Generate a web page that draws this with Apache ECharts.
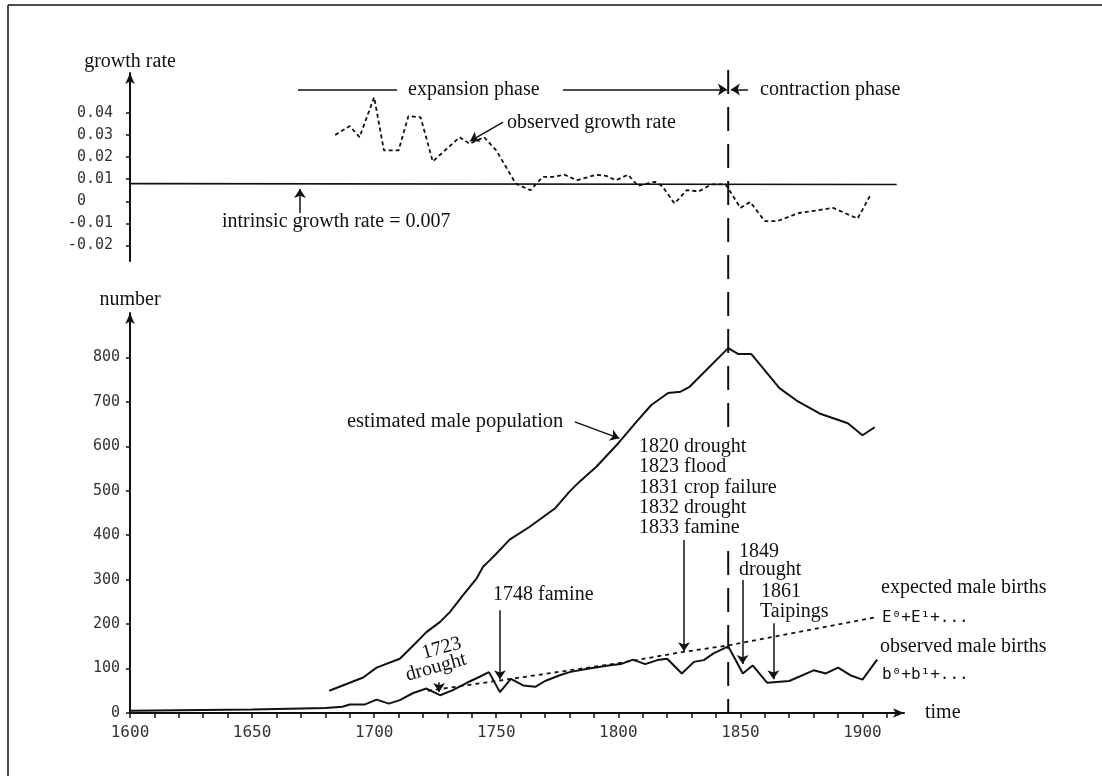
<!DOCTYPE html>
<html><head><meta charset="utf-8">
<script src="https://cdn.jsdelivr.net/npm/echarts@6/dist/echarts.min.js"></script>
<style>html,body{margin:0;padding:0;background:#fff}#c{width:1102px;height:776px}</style>
</head><body><div id="c"></div>
<script>
// ---- data ----
const growthYears = [1684,1690,1694,1700,1704,1710,1714,1719,1724,1735,1739,1745,1750,1758,1764,1769,1773,1778,1783,1791,1795,1799,1804,1808,1815,1818,1823,1828,1833,1838,1844,1850,1854,1860,1865,1874,1888,1898,1903];
const growthRates = [0.030,0.034,0.029,0.047,0.023,0.023,0.0385,0.038,0.018,0.029,0.026,0.029,0.023,0.008,0.005,0.011,0.011,0.012,0.0095,0.012,0.0115,0.0095,0.012,0.007,0.0088,0.0068,-0.001,0.005,0.0045,0.0076,0.0076,-0.003,-0.0003,-0.009,-0.009,-0.0053,-0.003,-0.0078,0.0023];
const intrinsicYears = [1600, 1914];
const intrinsicRates = [0.0080, 0.0076];

const popYears = [1681.6,1695.5,1701,1710.5,1716,1721.4,1727,1731,1736.4,1742,1744.6,1747.4,1749.4,1755.5,1763.7,1774,1780,1784,1791,1800,1807.4,1813.5,1820.4,1825.5,1829.2,1845,1849,1854.4,1866,1873,1882.4,1894,1900,1905];
const popValues = [50,80,102,122,152,182,205,227,265,303,329,344,355,390,419,460,498,520,554,607,655,693,720,723,734,821,808,808,731,703,674,652,625,643];

const birthYears = [1600,1650,1680,1687,1690,1696,1701,1706,1710.5,1716,1721.4,1727,1732,1738,1743,1747,1751.5,1756,1761,1766,1770,1776,1780,1788,1796,1801,1806,1811,1816,1820,1826,1831,1835,1839,1845,1851,1855,1861,1870,1880,1885,1890,1895,1900,1906];
const birthValues = [5,7.6,11,14,19,19,30,21,29,45,55,40,51,68,81,92,47,77,62,59,72,85,92,100,107,110,120,110,119,122,89,115,119,134,150,89,107,68,72,96,89,102,85,75,120];

const expYears = [1722,1750,1770,1800,1826,1845,1906];
const expValues = [50,72,88,112,137,152,216];

const xLabelYears = [1600,1650,1700,1750,1800,1850,1900];
const xTickYears = [1600,1610,1620,1630,1640,1650,1660,1670,1680,1690,1700,1710,1720,1730,1740,1750,1760,1770,1780,1790,1800,1810,1820,1830,1840,1850,1860,1870,1880,1890,1900,1910];
const rateTicks = [-0.02,-0.01,0,0.01,0.02,0.03,0.04];
const numberTicks = [0,100,200,300,400,500,600,700,800];
const turningYear = 1845;

// ---- chart ----
const pairs = (xs, ys) => xs.map((x, i) => [x, ys[i]]);
const INK = '#111';
const SERIF = '"Liberation Serif", "DejaVu Serif", serif';
const MONO = '"DejaVu Sans Mono", "Liberation Mono", monospace';
const NB = '\u00a0';

const arrowStyle = { color: INK, width: 1.5, type: 'solid' };
function arrow(x1, y1, x2, y2, endSymbol, curveness) {
  const a = { coord: [x1, y1] };
  const b = { coord: [x2, y2] };
  if (endSymbol) b.symbol = endSymbol;
  if (curveness) a.lineStyle = { curveness: curveness };
  return [a, b];
}

const chart = echarts.init(document.getElementById('c'), null, { renderer: 'canvas' });

const axisLineStyle = { color: INK, width: 2 };

const option = {
  backgroundColor: '#fff',
  animation: false,
  grid: [
    { left: 130, right: 198, top: 73, height: 188 },
    { left: 130, right: 198, top: 313, height: 400 }
  ],
  xAxis: [
    { gridIndex: 0, type: 'value', min: 1600, max: 1917, show: false },
    {
      gridIndex: 1, type: 'value', min: 1600, max: 1917,
      name: 'time', nameLocation: 'end', nameGap: 21,
      nameTextStyle: { fontFamily: SERIF, fontSize: 20, color: INK },
      axisLine: { show: true, onZero: false, symbol: ['none', 'arrow'], symbolSize: [7, 11], lineStyle: axisLineStyle },
      axisTick: { show: true, customValues: xTickYears, length: 5, lineStyle: { color: INK, width: 1.5 } },
      axisLabel: { customValues: xLabelYears, margin: 12, fontFamily: MONO, fontSize: 16, color: '#333', formatter: v => String(v) },
      splitLine: { show: false }
    }
  ],
  yAxis: [
    {
      gridIndex: 0, type: 'value', min: -0.027, max: 0.058,
      name: 'growth rate', nameLocation: 'end', nameGap: 1,
      nameTextStyle: { fontFamily: SERIF, fontSize: 20, color: INK, align: 'center' },
      axisLine: { show: true, onZero: false, symbol: ['none', 'arrow'], symbolSize: [7, 11], lineStyle: axisLineStyle },
      axisTick: { show: true, customValues: rateTicks, length: 4, lineStyle: { color: INK, width: 1.5 } },
      axisLabel: {
        customValues: rateTicks, margin: 17, fontFamily: MONO, fontSize: 15, color: '#333', align: 'right',
        formatter: v => Math.abs(v) < 1e-9 ? NB + '0' + NB + NB + NB : (v < 0 ? '-' : NB) + Math.abs(v).toFixed(2)
      },
      splitLine: { show: false }
    },
    {
      gridIndex: 1, type: 'value', min: 0, max: 900,
      name: 'number', nameLocation: 'end', nameGap: 3,
      nameTextStyle: { fontFamily: SERIF, fontSize: 20, color: INK, align: 'center' },
      axisLine: { show: true, onZero: false, symbol: ['none', 'arrow'], symbolSize: [7, 11], lineStyle: axisLineStyle },
      axisTick: { show: true, customValues: numberTicks, length: 4, lineStyle: { color: INK, width: 1.5 } },
      axisLabel: { customValues: numberTicks, margin: 10, fontFamily: MONO, fontSize: 15, color: '#333', formatter: v => String(v) },
      splitLine: { show: false }
    }
  ],
  series: [
    {
      name: 'observed growth rate', type: 'line', xAxisIndex: 0, yAxisIndex: 0,
      data: pairs(growthYears, growthRates), symbol: 'none', silent: true,
      lineStyle: { color: INK, width: 1.8, type: [4, 3] },
      markLine: {
        silent: true, symbol: ['none', 'arrow'], symbolSize: 9, label: { show: false },
        lineStyle: arrowStyle, emphasis: { disabled: true },
        data: [
          arrow(1669.6, -0.0053, 1669.6, 0.0056),
          arrow(1752.8, 0.0358, 1739.3, 0.0272),
          arrow(1668.8, 0.0505, 1709.4, 0.0505, 'none'),
          arrow(1777.3, 0.0505, 1844.5, 0.0505),
          arrow(1853.1, 0.0505, 1846.1, 0.0505)
        ]
      }
    },
    {
      name: 'intrinsic growth rate', type: 'line', xAxisIndex: 0, yAxisIndex: 0,
      data: pairs(intrinsicYears, intrinsicRates), symbol: 'none', silent: true,
      lineStyle: { color: INK, width: 1.6 }
    },
    {
      name: 'estimated male population', type: 'line', xAxisIndex: 1, yAxisIndex: 1,
      data: pairs(popYears, popValues), symbol: 'none', silent: true,
      lineStyle: { color: INK, width: 2 },
      markLine: {
        silent: true, symbol: ['none', 'arrow'], symbolSize: 9, label: { show: false },
        emphasis: { disabled: true },
        lineStyle: { color: INK, width: 1.5, type: 'solid' },
        data: [ arrow(1782.2, 655, 1800.4, 618, null, -0.3) ]
      }
    },
    {
      name: 'observed male births', type: 'line', xAxisIndex: 1, yAxisIndex: 1,
      data: pairs(birthYears, birthValues), symbol: 'none', silent: true,
      lineStyle: { color: INK, width: 2 },
      markLine: {
        silent: true, symbol: ['none', 'arrow'], symbolSize: 9, label: { show: false },
        lineStyle: arrowStyle, emphasis: { disabled: true },
        data: [
          arrow(1726.6, 69, 1726.6, 47),
          arrow(1751.5, 231, 1751.5, 76),
          arrow(1826.9, 389, 1826.9, 139),
          arrow(1850.9, 299, 1850.9, 110),
          arrow(1863.5, 202, 1863.5, 76)
        ]
      }
    },
    {
      name: 'expected male births', type: 'line', xAxisIndex: 1, yAxisIndex: 1,
      data: pairs(expYears, expValues), symbol: 'none', silent: true,
      lineStyle: { color: INK, width: 1.8, type: [4, 4] }
    }
  ]
};
chart.setOption(option);

// ---- annotations ----
function txt(text, x, y, opts) {
  opts = opts || {};
  const style = {
    text: text, fill: INK,
    font: (opts.size || 20) + 'px ' + (opts.family || SERIF),
    align: opts.align || 'left', verticalAlign: 'middle'
  };
  return { type: 'text', x: x, y: y, rotation: opts.rotation || 0, silent: true, style: style };
}
const dividerTop = chart.convertToPixel({ gridIndex: 0 }, [turningYear, 0.0594]);
const dividerBottom = chart.convertToPixel({ gridIndex: 1 }, [turningYear, 0]);

const graphics = [
  { type: 'line', silent: true, shape: { x1: 8, y1: 5, x2: 1102, y2: 5 }, style: { stroke: INK, lineWidth: 1.5 } },
  { type: 'line', silent: true, shape: { x1: 8, y1: 5, x2: 8, y2: 776 }, style: { stroke: INK, lineWidth: 1.5 } },
  { type: 'line', silent: true, shape: { x1: dividerTop[0], y1: dividerTop[1], x2: dividerBottom[0], y2: dividerBottom[1] },
    style: { stroke: INK, lineWidth: 2, lineDash: [24, 13] } },
  { type: 'rect', silent: true, shape: { x: 636, y: 432, width: 150, height: 106 }, style: { fill: '#fff' } },
  txt('expansion phase', 408, 90),
  txt('contraction phase', 760, 90),
  txt('observed growth rate', 507, 123),
  txt('intrinsic growth rate = 0.007', 222, 222),
  txt('estimated male population', 347, 422, { size: 20.5 }),
  txt('1820 drought', 639, 447),
  txt('1823 flood', 639, 467),
  txt('1831 crop failure', 639, 487.5),
  txt('1832 drought', 639, 508),
  txt('1833 famine', 639, 528),
  txt('1748 famine', 493, 595),
  txt('1849', 739, 552),
  txt('drought', 739, 570),
  txt('1861', 761, 592),
  txt('Taipings', 760, 612),
  txt('expected male births', 881, 588),
  txt('E\u2070+E\u00b9+...', 882, 618, { family: MONO, size: 16 }),
  txt('observed male births', 880, 647),
  txt('b\u2070+b\u00b9+...', 882, 675, { family: MONO, size: 16 }),
  txt('1723', 441.7, 648.3, { align: 'center', rotation: 0.27 }),
  txt('drought', 436, 667.3, { align: 'center', rotation: 0.27 })
];
chart.setOption({ graphic: graphics });
</script>
</body></html>
